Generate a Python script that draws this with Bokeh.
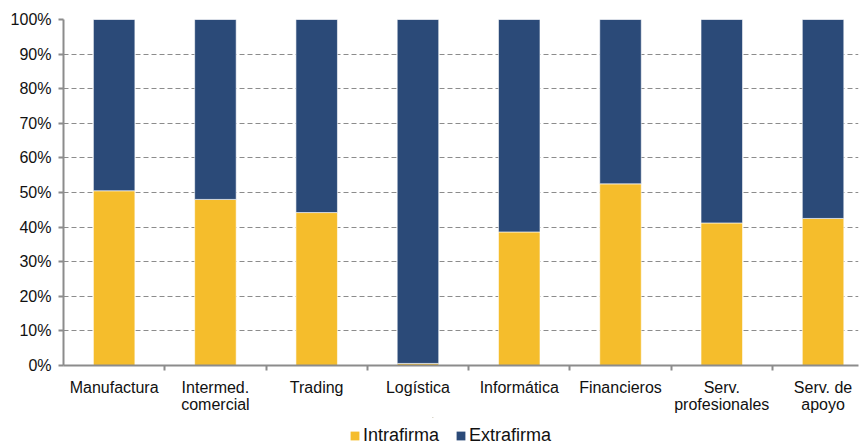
from bokeh.plotting import figure
from bokeh.layouts import column
from bokeh.models import (Range1d, FixedTicker, Legend, LegendItem,
                          ColumnDataSource)
from bokeh.embed import file_html
from bokeh.resources import INLINE

categories = ["Manufactura", "Intermed.\ncomercial", "Trading", "Logística",
              "Informática", "Financieros", "Serv.\nprofesionales", "Serv. de\napoyo"]
intrafirma = [50.5, 48.0, 44.2, 0.6, 38.6, 52.5, 41.2, 42.5]
extrafirma = [100 - v for v in intrafirma]
y_ticks = [0, 10, 20, 30, 40, 50, 60, 70, 80, 90, 100]
series_names = ["Intrafirma", "Extrafirma"]

YELLOW = "#F5BD2C"
BLUE = "#2B4A78"
GREY = "#8c8c8c"
FONT = "Liberation Sans"

centers = [i + 0.5 for i in range(len(categories))]
src = ColumnDataSource(dict(x=centers, intra=intrafirma, extra=extrafirma,
                            top=[100] * len(categories)))

# main stacked-bar chart
p = figure(width=861, height=417, output_backend="svg", toolbar_location=None,
           x_range=Range1d(0, 7.85), y_range=Range1d(0, 100),
           min_border_left=63, min_border_right=3, min_border_top=19,
           min_border_bottom=52)
p.outline_line_color = None

p.vbar(x="x", bottom=0, top="intra", width=0.41, source=src,
       fill_color=YELLOW, line_color="white", line_width=0.6)
p.vbar(x="x", bottom="intra", top="top", width=0.41, source=src,
       fill_color=BLUE, line_color="white", line_width=0.6)

# x axis: labels at bar centres, tick marks at category boundaries
p.xaxis.ticker = FixedTicker(ticks=centers, minor_ticks=list(range(1, len(categories))))
p.xaxis.major_label_overrides = {c: lab for c, lab in zip(centers, categories)}
p.xaxis.major_tick_out = 0
p.xaxis.major_tick_in = 0
p.xaxis.minor_tick_out = 5
p.xaxis.minor_tick_in = 0
p.xaxis.minor_tick_line_color = GREY
p.xaxis.minor_tick_line_width = 2
p.xaxis.axis_line_color = GREY
p.xaxis.axis_line_width = 2
p.xaxis.major_label_text_font = FONT
p.xaxis.major_label_text_font_size = "16px"
p.xaxis.major_label_text_line_height = 1.05
p.xaxis.major_label_text_color = "#111111"
p.xaxis.major_label_standoff = 8

# y axis: percentages
p.yaxis.ticker = FixedTicker(ticks=y_ticks)
p.yaxis.major_label_overrides = {t: f"{t}%" for t in y_ticks}
p.yaxis.major_tick_out = 5
p.yaxis.major_tick_in = 0
p.yaxis.minor_tick_line_color = None
p.yaxis.axis_line_color = GREY
p.yaxis.axis_line_width = 2
p.yaxis.major_tick_line_color = GREY
p.yaxis.major_tick_line_width = 2
p.yaxis.major_label_text_font = FONT
p.yaxis.major_label_text_font_size = "16px"
p.yaxis.major_label_text_color = "#111111"
p.yaxis.major_label_standoff = 7

p.xgrid.grid_line_color = None
p.ygrid.grid_line_color = GREY
p.ygrid.grid_line_dash = "5 3"
p.ygrid.grid_line_width = 1

# legend strip underneath
lg = figure(width=861, height=30, output_backend="svg", toolbar_location=None,
            x_range=Range1d(0, 861), y_range=Range1d(0, 30),
            x_axis_location=None, y_axis_location=None,
            min_border=0, min_border_left=0, min_border_right=0,
            min_border_top=0, min_border_bottom=0)
lg.grid.visible = False
lg.outline_line_color = None
# swatch renderers sit above the visible range; only their legend glyphs show
r1 = lg.vbar(x=[400], bottom=[200], top=[201], width=1, fill_color=YELLOW, line_color=None)
r2 = lg.vbar(x=[400], bottom=[200], top=[201], width=1, fill_color=BLUE, line_color=None)

legend = Legend(items=[LegendItem(label=series_names[0], renderers=[r1]),
                       LegendItem(label=series_names[1], renderers=[r2])],
                orientation="horizontal", location=(286, 1),
                background_fill_alpha=0, border_line_color=None,
                label_text_font=FONT, label_text_font_size="18px",
                label_text_color="#111111",
                label_height=14, glyph_width=11, glyph_height=11, spacing=16,
                label_standoff=3, padding=0, margin=0)
lg.add_layout(legend, "center")

layout = column(p, lg, spacing=0)
open("out.html", "w").write(file_html(layout, INLINE))
